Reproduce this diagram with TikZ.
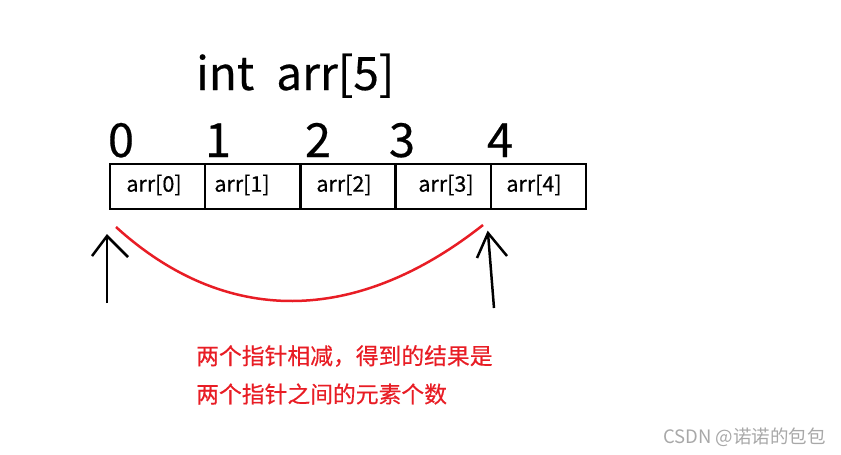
\documentclass[tikz,border=0pt]{standalone}
\usepackage{fontspec}
\usepackage{xcolor}
\usepackage{tikz}
\usetikzlibrary{arrows,positioning}
\setmainfont{Noto Sans CJK SC}[FakeBold=0.4]
\newfontfamily\markfont{Noto Sans CJK SC}
\definecolor{memored}{HTML}{E81D25}
\definecolor{markgray}{HTML}{A8A8A8}

\begin{document}
\begin{tikzpicture}[x=1pt,y=1pt]
\tikzstyle{every node}+=[inner sep=0pt]
\tikzstyle{cell}=[draw=black, line width=2.5pt, minimum width=95.2pt, minimum height=45pt]
\tikzstyle{idx}=[font=\fontsize{47}{47}\selectfont, anchor=base]
\tikzstyle{elem}=[font=\fontsize{21.5}{21.5}\selectfont]
\tikzstyle{memo}=[font=\fontsize{22.8}{22.8}\selectfont, text=memored, anchor=west]
\tikzstyle{ptr}=[black, line width=2.5pt]
\useasboundingbox (0,0) rectangle (841,-455);
\node [anchor=base west, font=\fontsize{46}{46}\selectfont] (title) at (196,-90) {int\hspace{22pt}arr[5]};
\node [cell] (c0) at (157.6,-186.5) {};
\node [cell] (c1) at (252.8,-186.5) {};
\node [cell] (c2) at (348.0,-186.5) {};
\node [cell] (c3) at (443.2,-186.5) {};
\node [cell] (c4) at (538.4,-186.5) {};
\node [elem] (e0) at (154,-185) {arr[0]};
\node [elem] (e1) at (242,-185) {arr[1]};
\node [elem] (e2) at (344,-185) {arr[2]};
\node [elem] (e3) at (446,-185) {arr[3]};
\node [elem] (e4) at (534,-185) {arr[4]};
\node [idx] (i0) at (121,-157) {0};
\node [idx] (i1) at (218,-157) {1};
\node [idx] (i2) at (318,-157) {2};
\node [idx] (i3) at (402,-157) {3};
\node [idx] (i4) at (500,-157) {4};
\coordinate (p0tail) at (107,-303);
\coordinate (p0tip) at (107,-236);
\coordinate (p4tail) at (494,-308);
\coordinate (p4tip) at (488,-233);
\coordinate (gapl) at (116,-227);
\coordinate (gapr) at (483,-225);
\draw [ptr] (p0tail) -- (p0tip);
\draw [ptr] ([shift={(-15,-20)}]p0tip) -- (p0tip) -- ([shift={(21,-21)}]p0tip);
\draw [ptr] (p4tail) -- (p4tip);
\draw [ptr] ([shift={(-11,-25)}]p4tip) -- (p4tip) -- ([shift={(19,-23)}]p4tip);
\draw [memored, line width=2.5pt] (gapl) .. controls (225,-326) and (355,-326) .. (gapr);
\node [memo] (m1) at (196,-356) {两个指针相减，得到的结果是};
\node [memo] (m2) at (196,-394) {两个指针之间的元素个数};
\node [anchor=east, text=markgray, font=\markfont\fontsize{18.5}{18.5}\selectfont] (mark) at (826,-437) {CSDN @诺诺的包包};
\end{tikzpicture}
\end{document}
